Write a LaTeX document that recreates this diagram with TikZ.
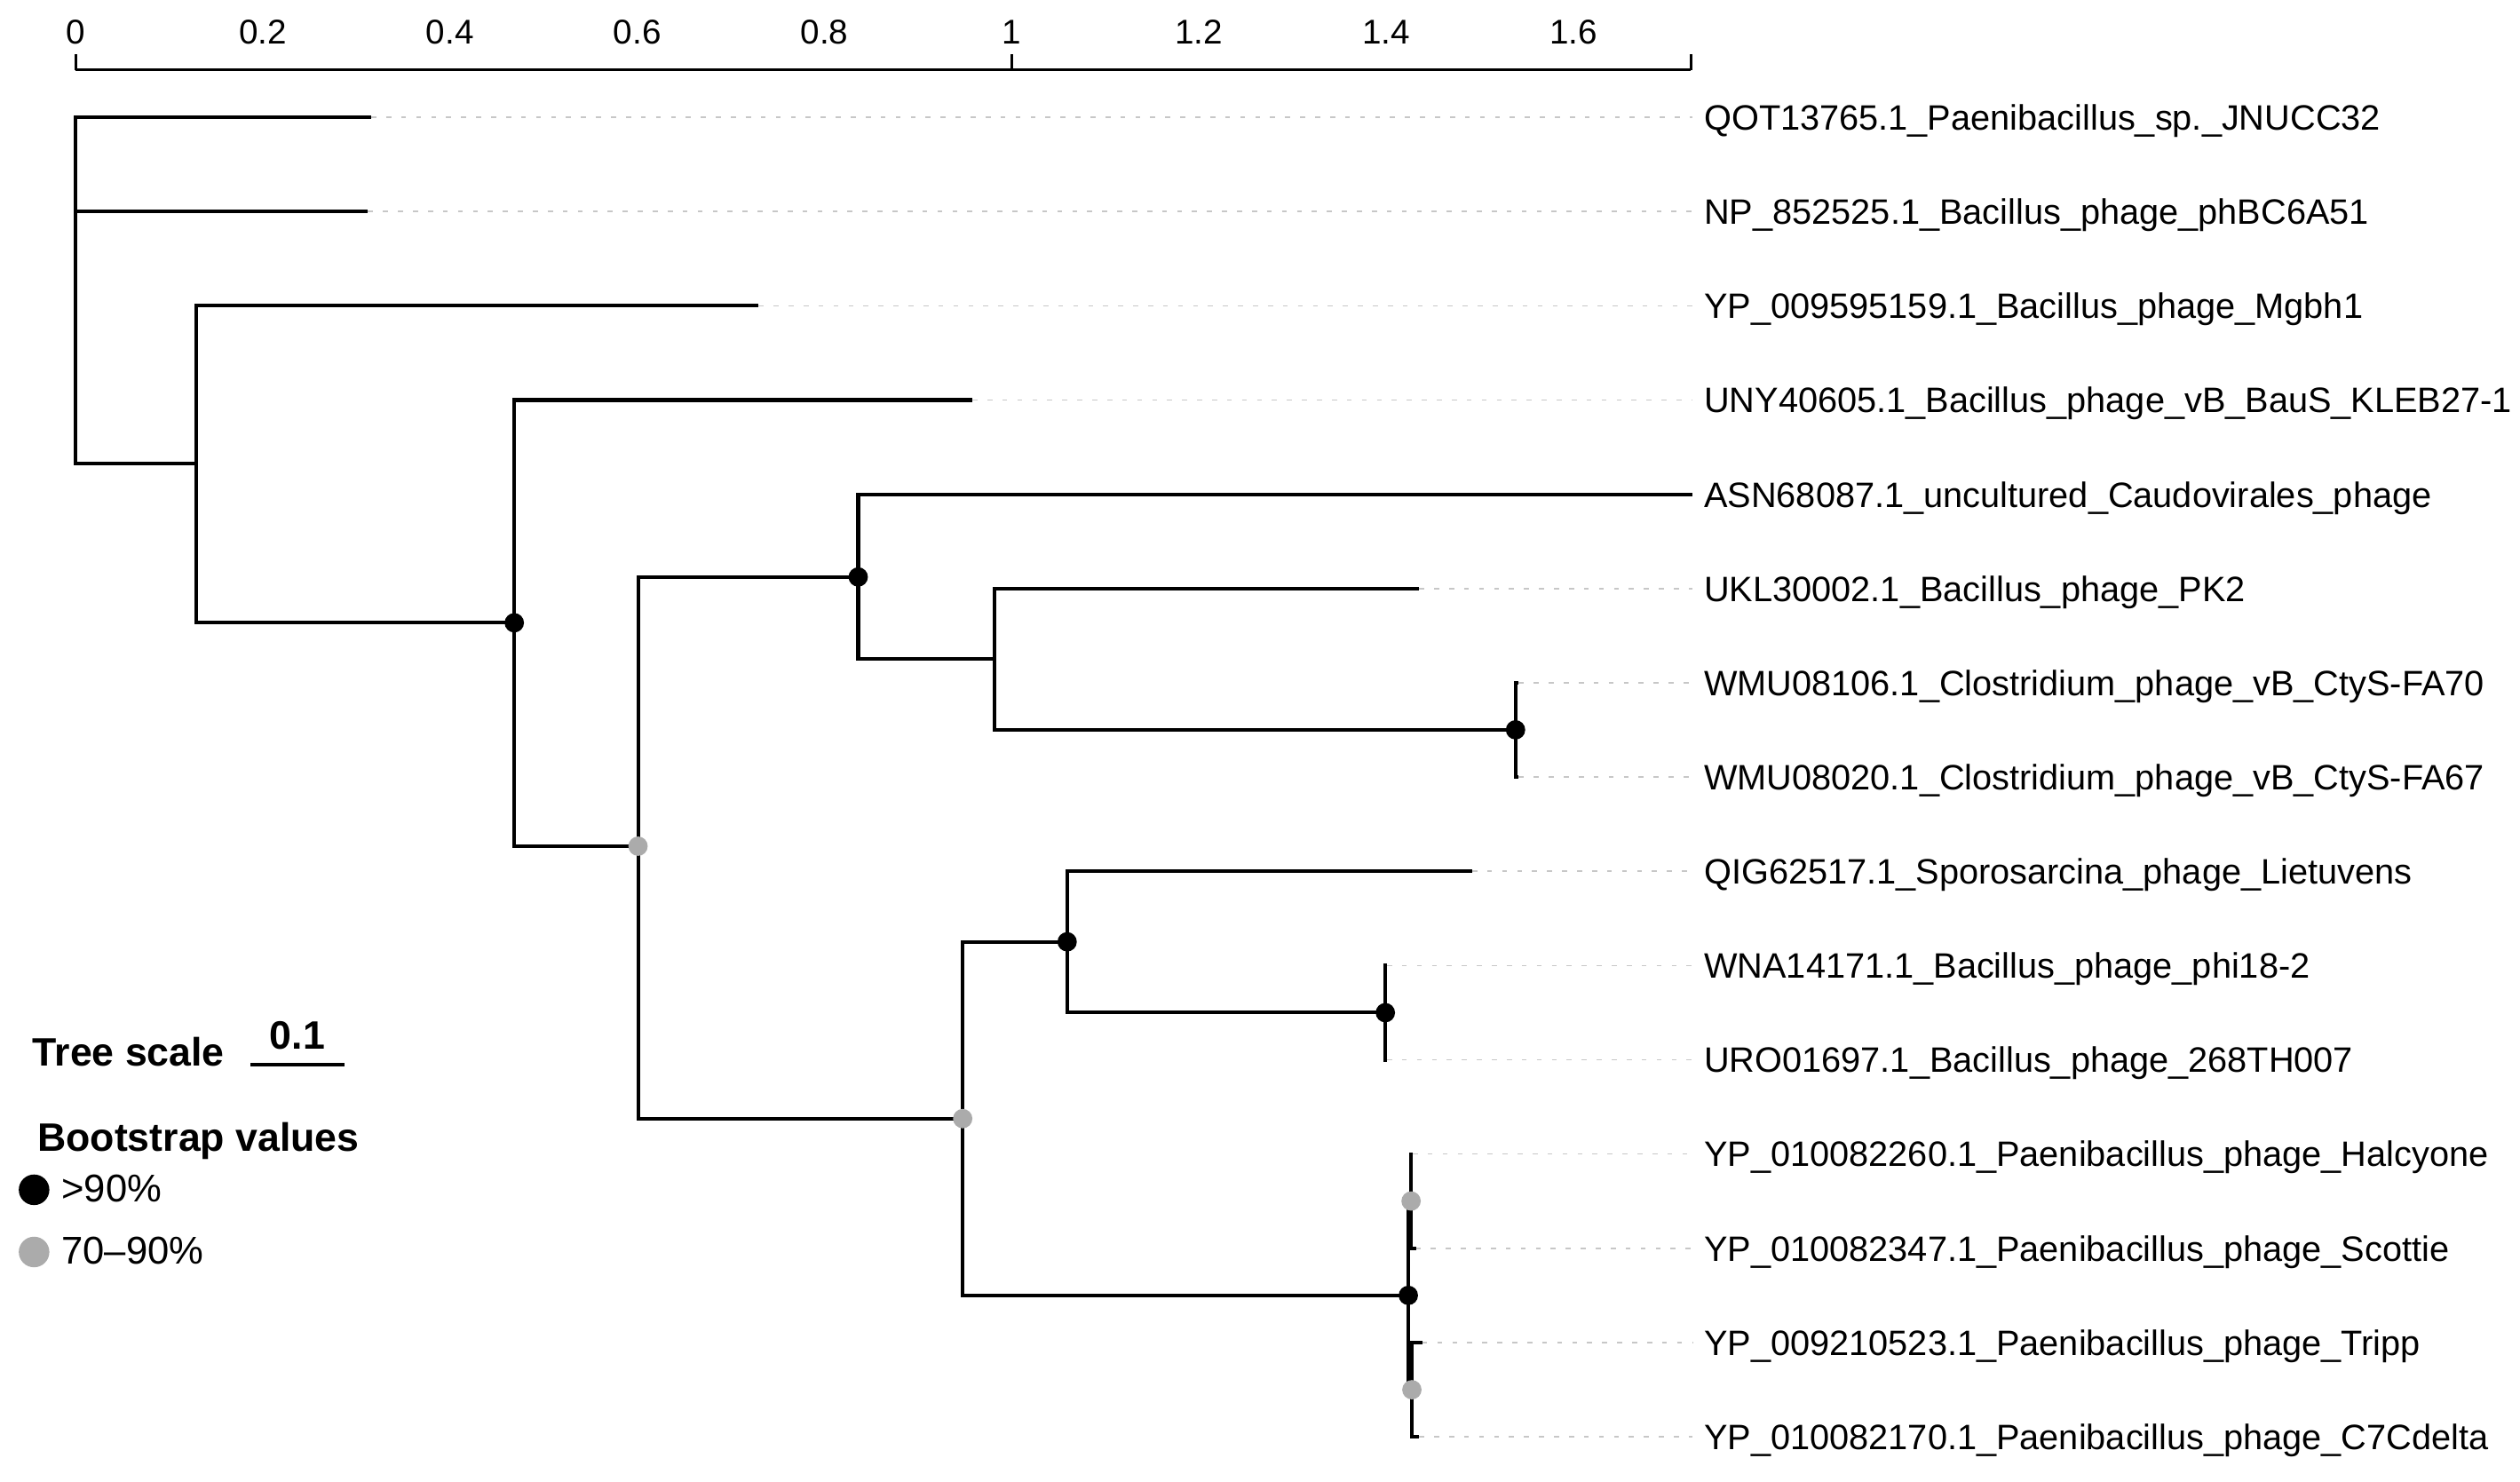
\documentclass[tikz,border=0pt]{standalone}
\usepackage{fontspec}
\setmainfont{Liberation Sans}
\begin{document}
\begin{tikzpicture}[x=0.0181cm,y=-0.0181cm,
  branch/.style={line width=1.15pt,draw=black},
  leader/.style={draw=black!22,line width=0.5pt,dash pattern=on 1.6pt off 3.2pt},
  leaflab/.style={anchor=base west,inner ysep=0pt,inner xsep=3.6pt,font=\fontsize{11.3}{13}\selectfont},
  bsb/.style={circle,fill=black,inner sep=0pt,minimum size=6.2pt},
  bsg/.style={circle,fill=black!33,inner sep=0pt,minimum size=6.2pt},
  ticklab/.style={anchor=base,inner sep=0pt,font=\fontsize{11}{13}\selectfont},
  legbold/.style={anchor=base west,inner sep=0pt,font=\bfseries\fontsize{12.7}{15}\selectfont},
  legtext/.style={anchor=base west,inner sep=0pt,font=\fontsize{12.4}{15}\selectfont},
  legdotb/.style={circle,fill=black,inner sep=0pt,minimum size=9.8pt},
  legdotg/.style={circle,fill=black!33,inner sep=0pt,minimum size=9.8pt},
  axisline/.style={line width=0.85pt,draw=black},
]
\useasboundingbox (0,0) rectangle (1568,922);

% ---- axis ----
\coordinate (ax0) at (47,43.5);
\coordinate (ax1) at (1052,43.5);
\draw[axisline] (ax0) -- (ax1);
\foreach \v/\t in {0/0,0.2/0.2,0.4/0.4,0.6/0.6,0.8/0.8,1/1,1.2/1.2,1.4/1.4,1.6/1.6}{
  \coordinate (tk\t) at ({47+582.5*\v},43.5);
  \draw[axisline] (tk\t) -- ++(0,-10);
  \node[ticklab] (tl\t) at ({47+582.5*\v},27.6) {\t};
}
\draw[axisline] (ax1) -- ++(0,-10);

% ---- leaves ----
\foreach \i/\y/\tx/\lab in {
 1/73/231/QOT13765.1\_Paenibacillus\_sp.\_JNUCC32,
 2/131.6/229/NP\_852525.1\_Bacillus\_phage\_phBC6A51,
 3/190.3/472/YP\_009595159.1\_Bacillus\_phage\_Mgbh1,
 4/248.9/605/UNY40605.1\_Bacillus\_phage\_vB\_BauS\_KLEB27-1,
 5/307.6/1053/ASN68087.1\_uncultured\_Caudovirales\_phage,
 6/366.2/883/UKL30002.1\_Bacillus\_phage\_PK2,
 7/424.8/945/WMU08106.1\_Clostridium\_phage\_vB\_CtyS-FA70,
 8/483.5/945/WMU08020.1\_Clostridium\_phage\_vB\_CtyS-FA67,
 9/542.1/916/QIG62517.1\_Sporosarcina\_phage\_Lietuvens,
 10/600.8/863/WNA14171.1\_Bacillus\_phage\_phi18-2,
 11/659.4/863/URO01697.1\_Bacillus\_phage\_268TH007,
 12/718/879/YP\_010082260.1\_Paenibacillus\_phage\_Halcyone,
 13/776.7/881/YP\_010082347.1\_Paenibacillus\_phage\_Scottie,
 14/835.3/885/YP\_009210523.1\_Paenibacillus\_phage\_Tripp,
 15/894/883/YP\_010082170.1\_Paenibacillus\_phage\_C7Cdelta}{
  \coordinate (t\i) at (\tx,\y);
  \node[leaflab] (l\i) at (1053,\y+7.9) {\lab};
}
\foreach \i in {1,2,3,4,6,7,8,9,10,11,12,13,14,15}{
  \draw[leader] (t\i) -- (t\i -| l\i.west);
}

% ---- internal nodes ----
\coordinate (root) at (47,131.6);
\coordinate (A) at (122,288.6);
\coordinate (B) at (320,387.5);
\coordinate (C) at (397,526.5);
\coordinate (D) at (534,359);
\coordinate (E) at (619,410);
\coordinate (F) at (943,454.1);
\coordinate (G) at (599,696);
\coordinate (H) at (664,586);
\coordinate (I) at (862,630.1);
\coordinate (J) at (876.3,806);
\coordinate (K) at (878,747.3);
\coordinate (L) at (878.5,864.7);

% ---- branches ----
\draw[branch] (root) |- (t1);
\draw[branch] (root) |- (t2);
\draw[branch] (root) |- (A);
\draw[branch] (A) |- (t3);
\draw[branch] (A) |- (B);
\draw[branch] (B) |- (t4);
\draw[branch] (B) |- (C);
\draw[branch] (C) |- (D);
\draw[branch] (C) |- (G);
\draw[branch] (D) |- (t5);
\draw[branch] (D) |- (E);
\draw[branch] (E) |- (t6);
\draw[branch] (E) |- (F);
\draw[branch] (F) |- (t7);
\draw[branch] (F) |- (t8);
\draw[branch] (G) |- (H);
\draw[branch] (G) |- (J);
\draw[branch] (H) |- (t9);
\draw[branch] (H) |- (I);
\draw[branch] (I) |- (t10);
\draw[branch] (I) |- (t11);
\draw[branch] (J) |- (K);
\draw[branch] (J) |- (L);
\draw[branch] (K) |- (t12);
\draw[branch] (K) |- (t13);
\draw[branch] (L) |- (t14);
\draw[branch] (L) |- (t15);

% ---- bootstrap dots ----
\node[bsb] (dB) at (B) {};
\node[bsg] (dC) at (C) {};
\node[bsb] (dD) at (D) {};
\node[bsb] (dF) at (F) {};
\node[bsg] (dG) at (G) {};
\node[bsb] (dH) at (H) {};
\node[bsb] (dI) at (I) {};
\node[bsb] (dJ) at (J) {};
\node[bsg] (dK) at (K) {};
\node[bsg] (dL) at (L) {};

% ---- legend ----
\node[legbold] (ts) at (20,663) {Tree scale};
\coordinate (sb0) at (156,662.5);
\coordinate (sb1) at (214.3,662.5);
\draw[axisline,line width=1pt] (sb0) -- (sb1);
\node[legbold,anchor=base] (sbl) at (185,653) {0.1};
\node[legbold] (bv) at (23,716.5) {Bootstrap values};
\node[legdotb] (lg1) at (21.2,740.3) {};
\node[legtext] (lt1) at (38,747.6) {>90\%};
\node[legdotg] (lg2) at (21.2,779) {};
\node[legtext] (lt2) at (38,786.2) {70\textendash 90\%};
\end{tikzpicture}
\end{document}
